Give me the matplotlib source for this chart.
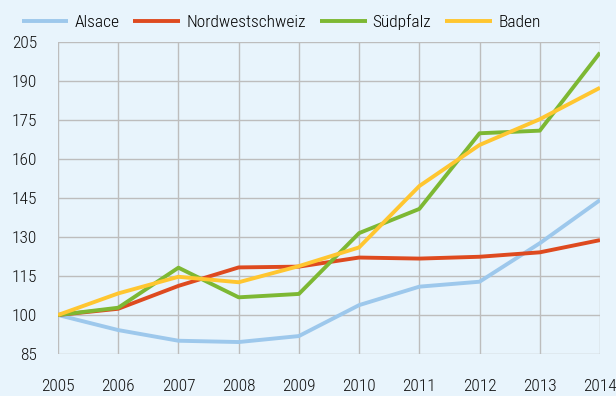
import matplotlib
matplotlib.use("Agg")
import matplotlib.pyplot as plt

years = [2005, 2006, 2007, 2008, 2009, 2010, 2011, 2012, 2013, 2014]
alsace = [100, 94.2, 90.1, 89.6, 91.9, 103.8, 110.9, 112.8, 127.6, 144.2]
nordwestschweiz = [100, 102.4, 111.2, 118.3, 118.6, 122.1, 121.7, 122.4, 124.1, 128.8]
suedpfalz = [100, 102.8, 118.2, 106.8, 108.1, 131.5, 140.8, 169.9, 170.9, 200.9]
baden = [100, 108.3, 114.7, 112.6, 118.8, 126.0, 149.6, 165.4, 175.3, 187.4]
y_ticks = [85, 100, 115, 130, 145, 160, 175, 190, 205]

plt.rcParams['font.family'] = ['Roboto Condensed', 'PT Sans Narrow', 'Fira Sans Condensed', 'DejaVu Sans']
plt.rcParams['font.weight'] = 'light'

bg = '#E8F4FC'
fig = plt.figure(figsize=(6.16, 3.96), dpi=100, facecolor=bg)
ax = fig.add_axes([58 / 616, 1 - 354 / 396, 542 / 616, 312 / 396], facecolor=bg)

series = [
    ('Alsace', alsace, '#9DC8EC'),
    ('Nordwestschweiz', nordwestschweiz, '#DE4A1F'),
    ('Südpfalz', suedpfalz, '#7DB833'),
    ('Baden', baden, '#FFC630'),
]
for name, vals, col in series:
    ax.plot(years, vals, color=col, lw=2.8, label=name, solid_capstyle='butt')

ax.set_xlim(2005, 2014)
ax.set_ylim(85, 205)
ax.set_xticks(years)
ax.set_yticks(y_ticks)
ax.grid(True, color='#BDBDBD', lw=1.0)
ax.set_axisbelow(True)
for s in ax.spines.values():
    s.set_visible(False)
ax.tick_params(length=0, labelsize=12.5, colors='#111111')
ax.tick_params(axis='x', pad=18)
ax.tick_params(axis='y', pad=15)

fig.legend(loc='center', bbox_to_anchor=(281 / 616, 1 - 22 / 396), ncol=4, frameon=False,
           fontsize=12.5, handlelength=2.7, columnspacing=0.8, handletextpad=0.35)

fig.savefig('out.png', dpi=100, facecolor=bg)
